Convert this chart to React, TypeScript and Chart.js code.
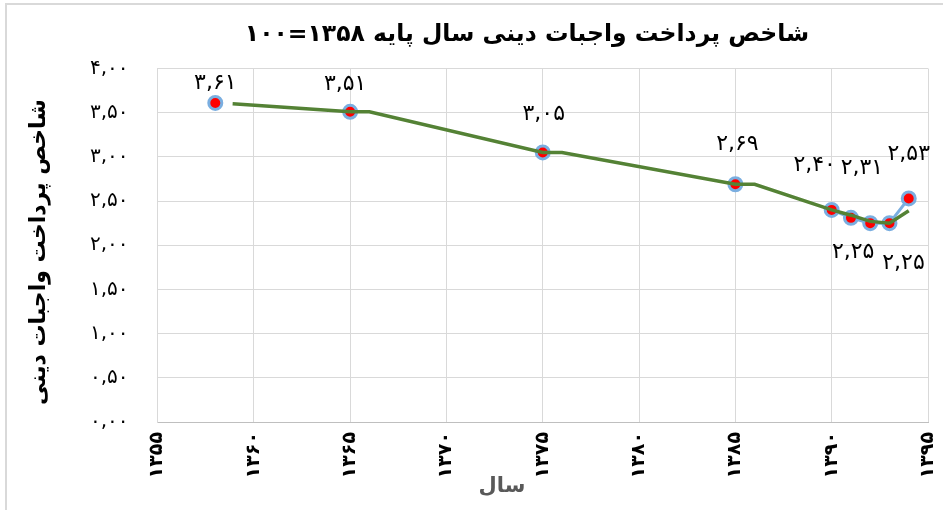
import React, { useEffect, useRef } from "react";
import { Chart, registerables } from "chart.js";

Chart.register(...registerables);

// ---- data ----
const years = [1358, 1365, 1375, 1385, 1390, 1391, 1392, 1393, 1394];
const values = [3.61, 3.51, 3.05, 2.69, 2.4, 2.31, 2.25, 2.25, 2.53];
const trendYears = [1358.9, 1365, 1366, 1375, 1376, 1385, 1386, 1390, 1391, 1392, 1393, 1394];
const trendValues = [3.6, 3.51, 3.51, 3.05, 3.05, 2.69, 2.69, 2.4, 2.34, 2.27, 2.25, 2.39];
const xMin = 1355;
const xMax = 1395;
const xStep = 5;
const yMin = 0;
const yMax = 4;
const yStep = 0.5;
const chartTitle = "شاخص پرداخت واجبات دینی سال پایه ۱۳۵۸=۱۰۰";
const xTitle = "سال";
const yTitle = "شاخص پرداخت واجبات دینی";

// label offsets (style only): [dx, dy] from marker centre
const labelOffsets: [number, number][] = [
  [0, -20],
  [-5, -28],
  [1, -38],
  [2, -40],
  [-17, -45],
  [11, -50],
  [-17, 29],
  [14, 40],
  [0, -44],
];

const FONT = "'DejaVu Sans', 'Noto Sans', sans-serif";
const faDigits = "۰۱۲۳۴۵۶۷۸۹";
const fa = (s: string) => s.replace(/[0-9]/g, (d) => faDigits[+d]).replace(".", ",");

const overlayPlugin = {
  id: "overlay",
  afterDraw(chart: any) {
    const ctx = chart.ctx as CanvasRenderingContext2D;
    const meta = chart.getDatasetMeta(1);
    ctx.save();
    // data labels
    ctx.fillStyle = "#000";
    ctx.font = `22px ${FONT}`;
    ctx.textAlign = "center";
    ctx.textBaseline = "middle";
    meta.data.forEach((pt: any, i: number) => {
      const [dx, dy] = labelOffsets[i] || [0, -25];
      ctx.fillText(fa(values[i].toFixed(2)), pt.x + dx, pt.y + dy);
    });
    // chart title
    ctx.direction = "rtl";
    ctx.font = `bold 23.5px ${FONT}`;
    ctx.fillStyle = "#000";
    ctx.fillText(chartTitle, 527, 35);
    // x title
    ctx.font = `bold 21px ${FONT}`;
    ctx.fillStyle = "#595959";
    ctx.fillText(xTitle, 502, 487);
    // y title
    ctx.save();
    ctx.translate(39, 252);
    ctx.rotate(-Math.PI / 2);
    ctx.font = `bold 22px ${FONT}`;
    ctx.fillStyle = "#000";
    ctx.fillText(yTitle, 0, 0);
    ctx.restore();
    ctx.restore();
  },
};

export default function App() {
  const ref = useRef<HTMLCanvasElement>(null);
  useEffect(() => {
    if (!ref.current) return;
    const chart = new Chart(ref.current, {
      type: "scatter",
      data: {
        datasets: [
          {
            label: "trend",
            data: trendYears.map((x, i) => ({ x, y: trendValues[i] })),
            showLine: true,
            borderColor: "#548235",
            borderWidth: 3.5,
            pointRadius: 0,
            pointHoverRadius: 0,
            tension: 0,
            order: 0,
          },
          {
            label: "index",
            data: years.map((x, i) => ({ x, y: values[i] })),
            showLine: true,
            borderWidth: 3,
            segment: {
              borderColor: (c: any) => (c.p0.parsed.x >= 1390 ? "#7aaee0" : "rgba(0,0,0,0)"),
            },
            borderColor: "#7aaee0",
            pointBackgroundColor: "#ff0000",
            pointBorderColor: "#7aaee0",
            pointBorderWidth: 3,
            pointRadius: 6.5,
            order: 1,
          },
        ],
      },
      options: {
        responsive: false,
        animation: false,
        events: [],
        layout: { padding: { top: 68.5, right: 15, left: 0, bottom: 0 } },
        plugins: {
          legend: { display: false },
          title: { display: false },
          tooltip: { enabled: false },
        },
        scales: {
          x: {
            type: "linear",
            min: xMin,
            max: xMax,
            afterFit: (s: any) => {
              s.height = 88;
              s.paddingLeft = 0;
              s.paddingRight = 0;
            },
            afterBuildTicks: (s: any) => {
              const t = [];
              for (let v = xMin; v <= xMax; v += xStep) t.push({ value: v });
              s.ticks = t;
            },
            ticks: {
              autoSkip: false,
              minRotation: 90,
              maxRotation: 90,
              padding: 10,
              color: "#000",
              font: { family: FONT, size: 19, weight: "bold" },
              callback: (v: any) => fa(String(v)),
            },
            grid: { color: "#d9d9d9", drawTicks: false, lineWidth: 1 },
            border: { color: "#bfbfbf", width: 1 },
          },
          y: {
            min: yMin,
            max: yMax,
            afterFit: (s: any) => {
              s.width = 157.5;
            },
            ticks: {
              stepSize: yStep,
              padding: 29,
              color: "#000",
              font: { family: FONT, size: 20 },
              callback: (v: any) => fa(Number(v).toFixed(2)),
            },
            grid: { color: "#d9d9d9", drawTicks: false, lineWidth: 1 },
            border: { color: "#d9d9d9", width: 1 },
            title: { display: false },
          },
        },
      },
      plugins: [overlayPlugin],
    });
    return () => chart.destroy();
  }, []);

  return (
    <div
      style={{
        position: "absolute",
        left: 0,
        top: 0,
        width: 943,
        height: 510,
        overflow: "hidden",
        background: "#fff",
      }}
    >
      <div
        style={{
          position: "absolute",
          left: 5,
          top: 3,
          width: 1000,
          height: 600,
          border: "2px solid #d9d9d9",
          boxSizing: "border-box",
        }}
      />
      <canvas
        ref={ref}
        width={943}
        height={510}
        style={{ position: "absolute", left: 0, top: 0, display: "block" }}
      />
    </div>
  );
}
